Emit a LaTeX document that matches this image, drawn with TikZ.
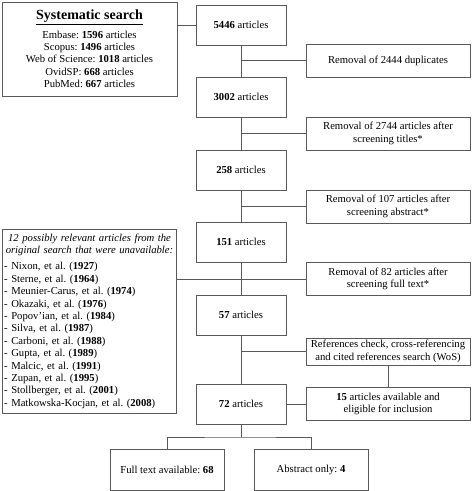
\documentclass[tikz,border=0pt]{standalone}
\usepackage{fontspec}
\setmainfont{Liberation Serif}
\frenchspacing
\begin{document}
\begin{tikzpicture}[x=0.75pt, y=-0.75pt, line width=0.6pt,
    every node/.style={font=\fontsize{8}{9.3}\selectfont, inner sep=1.5pt},
    box/.style={draw=black!65, align=center},
    count/.style={box, minimum width=67.5pt, minimum height=30pt},
    side/.style={box, minimum width=123pt, minimum height=24.75pt},
    result/.style={box, minimum width=85.5pt, minimum height=30.75pt},
    link/.style={draw=black!65}]
    \useasboundingbox (0,0) rectangle (472,491);

    % 1. left boxes: search sources and unavailable articles
    \node[box, minimum width=131.25pt, minimum height=70.5pt] (search) at (89.5,49)
        {{\fontsize{10.5}{12}\selectfont\bfseries\underline{Systematic search}}\\[3pt]
         Embase: \textbf{1596} articles\\
         Scopus: \textbf{1496} articles\\
         Web of Science: \textbf{1018} articles\\
         OvidSP: \textbf{668} articles\\
         PubMed: \textbf{667} articles};
    \node[box, align=left, text width=128pt, minimum height=138pt] (unavail) at (89.5,321)
        {{\centering\itshape 12 possibly relevant articles from the\\ original search that were unavailable:\par}
         \vspace{3pt}
         - Nixon, et al. (\textbf{1927})\\
         - Sterne, et al. (\textbf{1964})\\
         - Meunier-Carus, et al. (\textbf{1974})\\
         - Okazaki, et al. (\textbf{1976})\\
         - Popov'ian, et al. (\textbf{1984})\\
         - Silva, et al. (\textbf{1987})\\
         - Carboni, et al. (\textbf{1988})\\
         - Gupta, et al. (\textbf{1989})\\
         - Malcic, et al. (\textbf{1991})\\
         - Zupan, et al. (\textbf{1995})\\
         - Stollberger, et al. (\textbf{2001})\\
         - Matkowska-Kocjan, et al. (\textbf{2008})};

    % 2. main column of article counts
    \node[count] (n5446) at (241,25)  {\textbf{5446} articles};
    \node[count] (n3002) at (241,97)  {\textbf{3002} articles};
    \node[count] (n258)  at (241,170) {\textbf{258} articles};
    \node[count] (n151)  at (241,242) {\textbf{151} articles};
    \node[count] (n57)   at (241,315) {\textbf{57} articles};
    \node[count] (n72)   at (241,404) {\textbf{72} articles};

    % 3. removal steps on the right
    \node[side] (dup)    at (388,60.5)  {Removal of 2444 duplicates};
    \node[side] (titles) at (388,133.5) {Removal of 2744 articles after\\ screening titles*};
    \node[side] (abstr)  at (388,206.5) {Removal of 107 articles after\\ screening abstract*};
    \node[side] (fulltx) at (388,279)   {Removal of 82 articles after\\ screening full text*};
    \node[side, minimum height=20.25pt] (refs) at (388,351.5)
        {References check, cross-referencing\\ and cited references search (WoS)};
    \node[side] (n15)    at (388,404)   {\textbf{15} articles available and\\ eligible for inclusion};

    % 4. final split
    \node[result] (fulltext) at (167,469.5) {Full text available: \textbf{68}};
    \node[result] (absonly)  at (311,469.5) {Abstract only: \textbf{4}};
    \coordinate (split) at (241,437);

    % 5. connectors
    \draw[link] (search.east |- n5446.west) -- (n5446.west);
    \draw[link] (n5446) -- (n3002);
    \draw[link] (n3002) -- (n258);
    \draw[link] (n258) -- (n151);
    \draw[link] (n151) -- (n57);
    \draw[link] (n57) -- (n72);
    \draw[link] (dup.west -| n5446.south) -- (dup.west);
    \draw[link] (titles.west -| n3002.south) -- (titles.west);
    \draw[link] (abstr.west -| n258.south) -- (abstr.west);
    \draw[link] (unavail.east |- fulltx.west) -- (fulltx.west);
    \draw[link] (refs.west -| n57.south) -- (refs.west);
    \draw[link] (refs) -- (n15);
    \draw[link] (n72) -- (n15);
    \draw[link] (n72.south) -- (split);
    \draw[link] (fulltext.north) |- (split) -| (absonly.north);
\end{tikzpicture}
\end{document}
